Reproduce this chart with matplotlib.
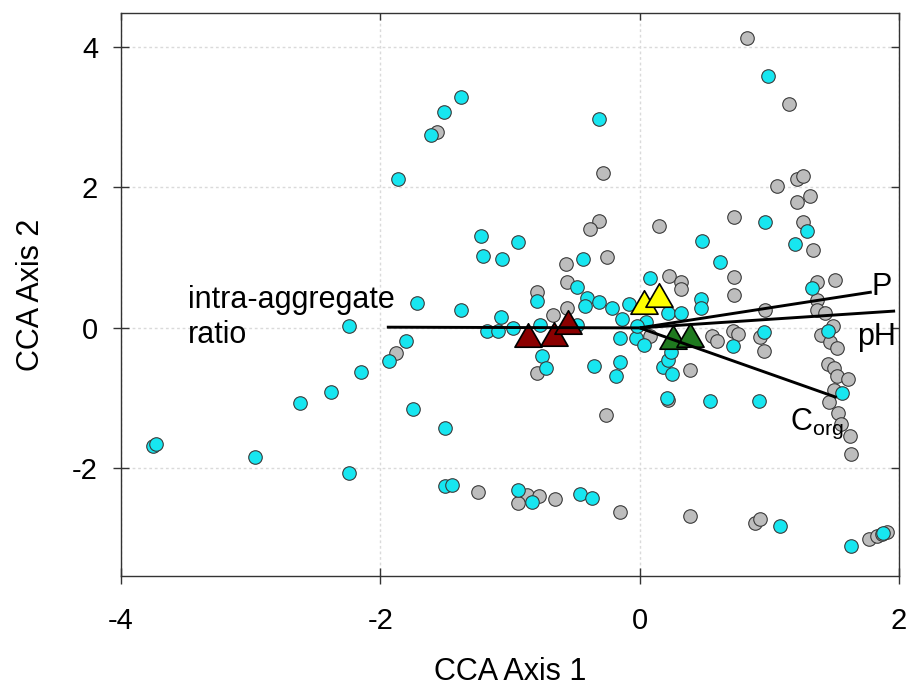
import matplotlib
matplotlib.use("Agg")
import matplotlib.pyplot as plt
from matplotlib.path import Path

plt.rcParams['font.family'] = ['Liberation Sans', 'DejaVu Sans']
plt.rcParams['mathtext.default'] = 'regular'
plt.rcParams['axes.unicode_minus'] = False

# ---- data: site scores ----
cyan_x = [-1.51, -1.61, -1.86, -1.72, -2.24, -1.38, 0.99, -0.31, 0.97, 1.29,
          1.20, 0.48, -1.22, -1.21, -1.06, -0.94, -0.44, 0.62, 1.33, 0.47,
          0.47, 0.08, 0.22, 0.32, -0.48, -0.41, -0.42, -0.31, -0.21, -0.14,
          -0.08, -0.79, -1.38, -1.07, -1.18, -1.09, -0.98, -0.77, -0.15, -0.03,
          0.03, 0.96, 0.72, 1.45, -1.80, -1.93, -2.15, -2.38, -2.62, -1.75,
          -1.50, -3.75, -3.73, -2.97, -2.24, -1.50, -1.45, -0.48, -0.75, -0.72,
          -0.35, -0.15, -0.18, -0.94, -0.83, -0.46, -0.37, 1.08, 1.63, 1.88,
          0.18, 0.22, 0.25, 0.24, 0.21, 0.54, 0.92, 1.56, 0.05, -0.02]
cyan_y = [3.07, 2.75, 2.12, 0.35, 0.03, 3.28, 3.59, 2.97, 1.51, 1.38,
          1.19, 1.24, 1.31, 1.02, 0.98, 1.22, 0.98, 0.94, 0.57, 0.41,
          0.28, 0.71, 0.21, 0.21, 0.58, 0.43, 0.31, 0.37, 0.28, 0.13,
          0.34, 0.38, 0.26, 0.15, -0.05, -0.05, 0.00, 0.04, -0.15, -0.15,
          -0.24, -0.06, -0.26, -0.04, -0.19, -0.47, -0.63, -0.91, -1.07, -1.16,
          -1.42, -1.68, -1.65, -1.83, -2.06, -2.25, -2.23, 0.04, -0.40, -0.57,
          -0.54, -0.49, -0.68, -2.30, -2.48, -2.36, -2.42, -2.82, -3.10, -2.92,
          -0.55, -0.46, -0.65, -0.35, -1.00, -1.04, -1.04, -0.92, 0.09, 0.02]

gray_x = [-1.56, 0.83, 1.15, -0.28, 1.06, 1.21, 1.26, 1.21, 1.31, 0.73,
          1.26, 1.34, -0.31, -0.38, 0.15, -0.25, -0.57, 0.73, 0.73, 1.51,
          1.37, 1.37, 1.37, 1.43, 0.97, 0.23, 0.32, 0.32, -0.56, -0.79,
          -0.56, -0.67, 0.56, 0.60, 0.72, 0.76, 0.93, 0.96, 1.49, 1.40,
          1.47, 1.52, 1.45, 1.50, 1.52, 1.61, 1.50, 1.46, 1.53, 1.55,
          1.62, 1.63, -1.88, -0.79, -0.26, -1.25, -0.87, -0.78, -0.94, -0.65,
          -0.15, 0.39, 0.89, 0.93, 1.77, 1.83, 1.87, 1.91, 0.39, 0.08, 0.22]
gray_y = [2.78, 4.13, 3.18, 2.20, 2.02, 2.12, 2.16, 1.79, 1.87, 1.58,
          1.51, 1.11, 1.52, 1.41, 1.45, 1.01, 0.91, 0.73, 0.47, 0.68,
          0.65, 0.40, 0.26, 0.21, 0.26, 0.74, 0.65, 0.55, 0.65, 0.51,
          0.28, 0.18, -0.12, -0.18, -0.04, -0.08, -0.13, -0.33, 0.02, -0.10,
          -0.20, -0.28, -0.52, -0.57, -0.68, -0.73, -0.88, -1.06, -1.21, -1.37,
          -1.54, -1.79, -0.36, -0.64, -1.24, -2.33, -2.38, -2.39, -2.49, -2.43,
          -2.62, -2.67, -2.78, -2.72, -3.00, -2.96, -2.93, -2.90, -0.60, -0.12, -1.03]

# ---- group centroids (triangles) ----
red_x = [-0.86, -0.66, -0.55]
red_y = [-0.10, -0.09, 0.09]
yellow_x = [0.03, 0.15]
yellow_y = [0.37, 0.47]
green_x = [0.26, 0.39]
green_y = [-0.13, -0.10]

# ---- environmental vectors ----
vec_names = ['intra-aggregate ratio', 'P', 'pH', 'Corg']
vec_x = [-1.95, 1.79, 1.97, 1.52]
vec_y = [0.01, 0.51, 0.24, -0.99]

fig = plt.figure(figsize=(9.06, 6.87), dpi=100)
ax = fig.add_axes([121/906, 1-576/687, (899-121)/906, (576-13)/687])
ax.set_xlim(-4, 2)
ax.set_ylim(-3.53, 4.48)

ax.set_xticks([-4, -2, 0, 2])
ax.set_yticks([-2, 0, 2, 4])
ax.grid(True, color='#dadada', linestyle=(0, (2, 2)), linewidth=1.0)
ax.set_axisbelow(True)

for s in ax.spines.values():
    s.set_color('#333333')
    s.set_linewidth(1.0)

ax.tick_params(axis='both', which='major', direction='inout', length=12,
               width=1.0, color='#333333', labelsize=21)
ax.tick_params(axis='x', pad=16)
ax.tick_params(axis='y', pad=10.5)
ax.tick_params(top=True, right=True, labeltop=False, labelright=False)
for t in ax.xaxis.get_major_ticks():
    t.tick2line.set_markersize(5)
    t.tick2line.set_marker(3)  # tick down from top
for t in ax.yaxis.get_major_ticks():
    t.tick2line.set_markersize(6)
    t.tick2line.set_marker(0)  # tick right (outward)

circ_kw = dict(s=95, edgecolors='#3a3a3a', linewidths=0.8, zorder=3)
ax.scatter(gray_x, gray_y, c='#bdbdbd', **circ_kw)
ax.scatter(cyan_x, cyan_y, c='#17e6f0', **circ_kw)

tri = Path([(0, 0.866), (-1, -0.866), (1, -0.866), (0, 0.866)],
           [Path.MOVETO, Path.LINETO, Path.LINETO, Path.CLOSEPOLY])
tri_kw = dict(marker=tri, s=380, edgecolors='black', linewidths=1.2, zorder=4)
ax.scatter(red_x, red_y, c='#8b0000', **tri_kw)
ax.scatter(yellow_x, yellow_y, c='#ffff00', **tri_kw)
ax.scatter(green_x, green_y, c='#1f7a1f', **tri_kw)

for vx, vy in zip(vec_x, vec_y):
    ax.plot([0, vx], [0, vy], color='black', linewidth=2.1, zorder=5,
            solid_capstyle='butt')

fs = 22
ax.text(-3.485, 0.285, 'intra-aggregate', fontsize=fs, ha='left', va='baseline', zorder=6)
ax.text(-3.485, -0.21, 'ratio', fontsize=fs, ha='left', va='baseline', zorder=6)
ax.text(1.79, 0.47, 'P', fontsize=fs, ha='left', va='baseline', zorder=6)
ax.text(1.68, -0.24, 'pH', fontsize=fs, ha='left', va='baseline', zorder=6)
ax.text(1.16, -1.45, r'C$_{org}$', fontsize=fs, ha='left', va='baseline', zorder=6)

ax.set_xlabel('CCA Axis 1', fontsize=22)
ax.set_ylabel('CCA Axis 2', fontsize=22)
ax.xaxis.set_label_coords(0.5, (576-657)/563)
ax.yaxis.set_label_coords((46-121)/778, 0.5)

fig.savefig('out.png', dpi=100)
